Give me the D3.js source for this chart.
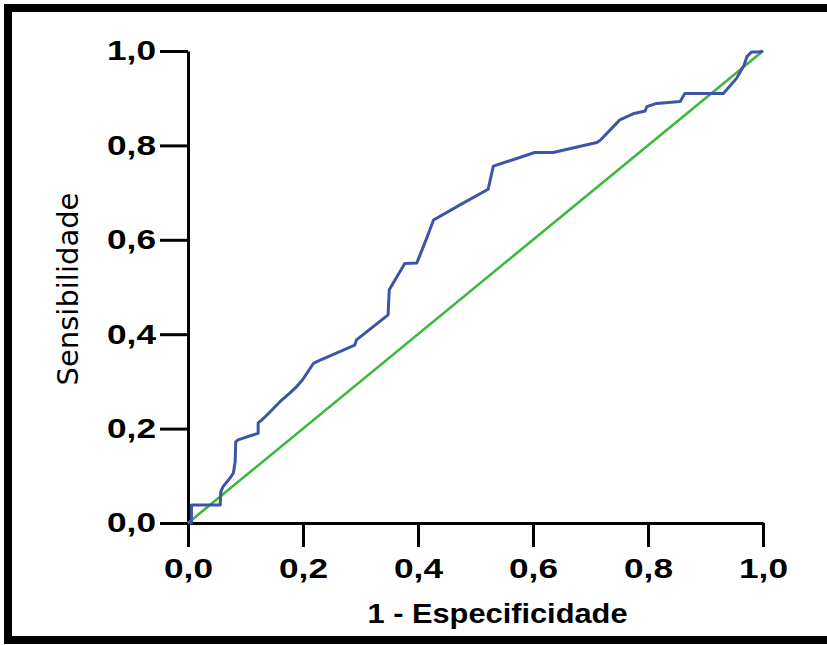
<!DOCTYPE html>
<html>
<head>
<meta charset="utf-8">
<script src="https://cdn.jsdelivr.net/npm/d3@7"></script>
<style>
  body { margin: 0; background: #fff; }
</style>
</head>
<body>
<div id="chart-area"></div>
<script>
// ROC curve data (1 - especificidade, sensibilidade)
var fpr = [0, 0.006, 0.006, 0.056, 0.057, 0.061, 0.073, 0.079, 0.082, 0.083, 0.087, 0.111, 0.122, 0.122, 0.128, 0.140, 0.160, 0.177, 0.189, 0.199,
  0.218, 0.224, 0.290, 0.293, 0.348, 0.350, 0.377, 0.398, 0.415, 0.427, 0.473, 0.522, 0.531, 0.603, 0.635, 0.711, 0.717,
  0.751, 0.774, 0.795, 0.798, 0.815, 0.856, 0.864, 0.931, 0.954, 0.967, 0.972, 0.980, 0.995, 1];
var tpr = [0, 0, 0.038, 0.038, 0.066, 0.077, 0.095, 0.106, 0.130, 0.172, 0.176, 0.186, 0.190, 0.212, 0.218, 0.232, 0.257, 0.275, 0.289, 0.303,
  0.338, 0.342, 0.377, 0.388, 0.441, 0.494, 0.550, 0.551, 0.603, 0.642, 0.674, 0.707, 0.756, 0.785, 0.785, 0.806, 0.811,
  0.854, 0.867, 0.873, 0.882, 0.889, 0.893, 0.910, 0.910, 0.942, 0.970, 0.988, 0.998, 0.998, 1];
var refX = [0, 1];
var refY = [0, 1];
var ticks = [0, 0.2, 0.4, 0.6, 0.8, 1.0];

var margin = {top: 51, left: 188};
var width = 575;
var height = 472;

var svg = d3.select("#chart-area").append("svg")
  .attr("width", 827)
  .attr("height", 645)

// outer frame (right side is cut off in the original)
svg.append("rect")
  .attr("x", 8).attr("y", 8)
  .attr("width", 900).attr("height", 632)
  .attr("fill", "none")
  .attr("stroke", "#000")
  .attr("stroke-width", 8)

var g = svg.append("g")
  .attr("transform", "translate(" + margin.left + ", " + margin.top + ")")

var x = d3.scaleLinear().domain([0, 1]).range([0, width])
var y = d3.scaleLinear().domain([0, 1]).range([height, 0])

var fmt = d => d3.format(".1f")(d).replace(".", ",")

var xAxisCall = d3.axisBottom(x).tickValues(ticks).tickSize(24).tickSizeOuter(0).tickPadding(11).tickFormat(fmt)
var yAxisCall = d3.axisLeft(y).tickValues(ticks).tickSize(28).tickSizeOuter(0).tickPadding(4).tickFormat(fmt)

var xg = g.append("g")
  .attr("class", "x axis")
  .attr("transform", "translate(0, " + height + ")")
  .call(xAxisCall)

var yg = g.append("g")
  .attr("class", "y axis")
  .call(yAxisCall)

g.selectAll(".axis path, .axis line")
  .attr("stroke", "#000")
  .attr("stroke-width", 3)
// the original looks like Arial Bold stretched sideways
g.selectAll(".axis text")
  .attr("font-family", "Liberation Sans, Arial")
  .attr("font-weight", "bold")
  .attr("font-size", "28px")
  .attr("textLength", 49)
  .attr("lengthAdjust", "spacingAndGlyphs")
  .attr("fill", "#000")

// reference diagonal
var line = d3.line().x(i => x(i[0])).y(i => y(i[1]))

g.append("path")
  .datum(refX.map((v, i) => [v, refY[i]]))
  .attr("d", line)
  .attr("fill", "none")
  .attr("stroke", "#3cb93c")
  .attr("stroke-width", 2.6)

// ROC curve
g.append("path")
  .datum(fpr.map((v, i) => [v, tpr[i]]))
  .attr("d", line)
  .attr("fill", "none")
  .attr("stroke", "#3c55aa")
  .attr("stroke-width", 3)
  .attr("stroke-linejoin", "round")

// X Label
g.append("text")
  .attr("x", width / 2 + 22)
  .attr("y", height + 100)
  .attr("font-family", "Liberation Sans, Arial")
  .attr("font-weight", "bold")
  .attr("font-size", "27px")
  .attr("textLength", 260)
  .attr("lengthAdjust", "spacingAndGlyphs")
  .attr("text-anchor", "middle")
  .style("fill", "black")
  .text("1 - Especificidade")

// Y Label
g.append("text")
  .attr("x", -(height / 2) - 2)
  .attr("y", -110)
  .attr("font-family", "DejaVu Sans")
  .attr("font-size", "29px")
  .attr("text-anchor", "middle")
  .attr("transform", "rotate(-90)")
  .style("fill", "black")
  .text("Sensibilidade")
</script>
</body>
</html>
